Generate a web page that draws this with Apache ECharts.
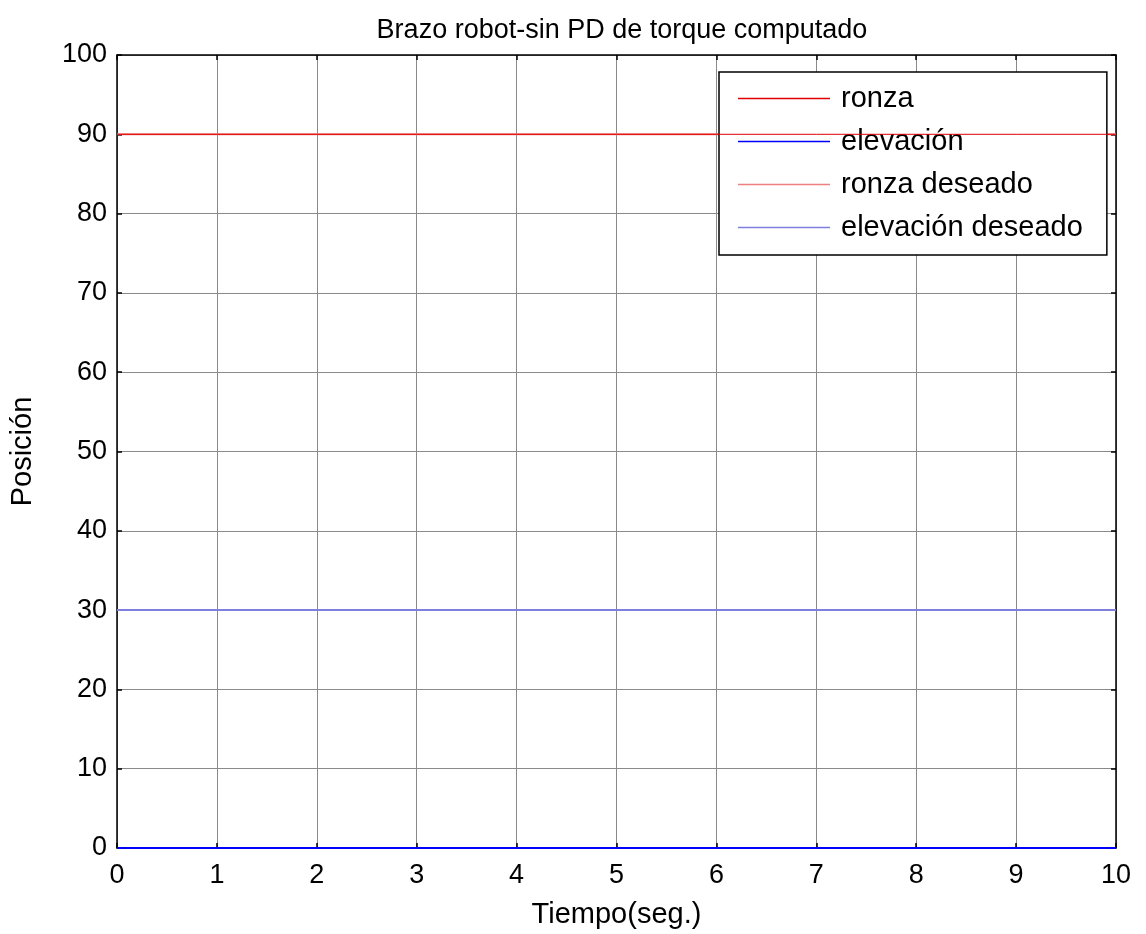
<!DOCTYPE html>
<html>
<head>
<meta charset="utf-8">
<script src="https://cdn.jsdelivr.net/npm/echarts@6/dist/echarts.min.js"></script>
<style>
html,body{margin:0;padding:0;background:#fff;}
#chart{width:1146px;height:934px;}
</style>
</head>
<body>
<div id="chart"></div>
<script>
// Data
const time = [0, 1, 2, 3, 4, 5, 6, 7, 8, 9, 10];
const ronza = [90, 90, 90, 90, 90, 90, 90, 90, 90, 90, 90];
const elevacion = [0, 0, 0, 0, 0, 0, 0, 0, 0, 0, 0];
const ronzaDeseado = [90, 90, 90, 90, 90, 90, 90, 90, 90, 90, 90];
const elevacionDeseado = [30, 30, 30, 30, 30, 30, 30, 30, 30, 30, 30];
const seriesNames = ['ronza', 'elevación', 'ronza deseado', 'elevación deseado'];
const titleText = 'Brazo robot-sin PD de torque computado';
const xTitle = 'Tiempo(seg.)';
const yTitle = 'Posición';

const FONT = '"Liberation Sans", Arial, sans-serif';
const FS = 27;
const FS_BIG = 29;
const pairs = (ys) => time.map((t, i) => [t, ys[i]]);

const chart = echarts.init(document.getElementById('chart'), null, {renderer: 'canvas'});

function lineSeries(name, ys, color, width, z) {
  return {
    name: name, type: 'line', data: pairs(ys),
    symbol: 'none', showSymbol: false, clip: false, z: z,
    lineStyle: {color: color, width: width},
    itemStyle: {color: color},
    animation: false
  };
}

function axisCommon() {
  return {
    axisLine: {show: true, onZero: false, lineStyle: {color: '#000', width: 1.5}},
    axisTick: {show: true, inside: true, length: 5, lineStyle: {color: '#000', width: 1.5}}
  };
}

chart.setOption({
  backgroundColor: '#fff',
  animation: false,
  title: {
    text: titleText, left: 617, top: 12, textAlign: 'center',
    textStyle: {fontFamily: FONT, fontSize: 27, fontWeight: 'normal', color: '#000'}
  },
  grid: {left: 117, top: 55, width: 999, height: 793, containLabel: false},
  legend: {
    orient: 'vertical', left: 719, top: 72,
    data: seriesNames,
    icon: 'rect',
    backgroundColor: '#fff', borderColor: '#000', borderWidth: 1.5,
    padding: [12, 24, 13, 19],
    itemWidth: 92, itemHeight: 1.5, itemGap: 14,
    textStyle: {fontFamily: FONT, fontSize: FS_BIG, color: '#000', lineHeight: 29, padding: [0, 0, 0, 6]}
  },
  xAxis: [
    Object.assign({
      type: 'value', min: 0, max: 10, interval: 1, position: 'bottom',
      axisLabel: {fontFamily: FONT, fontSize: FS, color: '#000', margin: 14},
      splitLine: {show: true, lineStyle: {color: '#8a8a8a', width: 1}},
      name: xTitle, nameLocation: 'middle', nameGap: 52,
      nameTextStyle: {fontFamily: FONT, fontSize: FS_BIG, color: '#000'}
    }, axisCommon()),
    Object.assign({
      type: 'value', min: 0, max: 10, interval: 1, position: 'top',
      axisLabel: {show: false}, splitLine: {show: false}
    }, axisCommon())
  ],
  yAxis: [
    Object.assign({
      type: 'value', min: 0, max: 100, interval: 10, position: 'left',
      axisLabel: {fontFamily: FONT, fontSize: FS, color: '#000', margin: 10},
      splitLine: {show: true, lineStyle: {color: '#8a8a8a', width: 1}},
      name: yTitle, nameLocation: 'middle', nameGap: 80, nameRotate: 90,
      nameTextStyle: {fontFamily: FONT, fontSize: FS_BIG, color: '#000'}
    }, axisCommon()),
    Object.assign({
      type: 'value', min: 0, max: 100, interval: 10, position: 'right',
      axisLabel: {show: false}, splitLine: {show: false}
    }, axisCommon())
  ],
  series: [
    lineSeries(seriesNames[2], ronzaDeseado, '#f08080', 2, 3),
    lineSeries(seriesNames[0], ronza, '#e00000', 1, 4),
    lineSeries(seriesNames[1], elevacion, '#0000ff', 2, 5),
    lineSeries(seriesNames[3], elevacionDeseado, '#7f7fdf', 2, 6)
  ]
});
</script>
</body>
</html>
